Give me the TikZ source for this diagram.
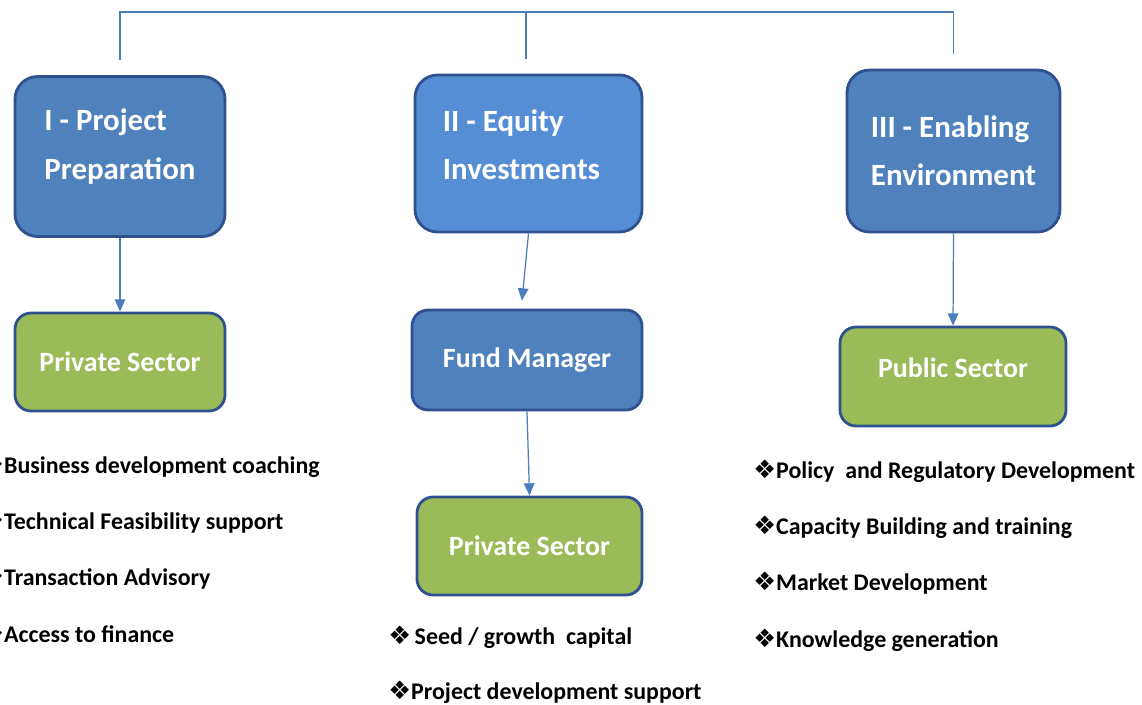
\documentclass[tikz,border=0pt]{standalone}
\usepackage{fontspec}
\setmainfont{Carlito}
\newfontfamily\symfont{DejaVu Sans}
\usepackage{tikz}
\usetikzlibrary{positioning,calc,arrows.meta}
\usepackage{xcolor}
\definecolor{boxblue}{HTML}{4F81BD}
\definecolor{boxlight}{HTML}{558ED5}
\definecolor{boxedge}{HTML}{2F528F}
\definecolor{boxgreen}{HTML}{9BBB59}
\definecolor{linkblue}{HTML}{4A7EBB}

\tikzset{
    pillar/.style={draw=boxedge, line width=1.6pt, fill=boxblue, rounded corners=0.45cm,
        text=white, font=\fontsize{17.6}{27.5}\selectfont\bfseries, align=left,
        minimum width=4.2cm, minimum height=3.2cm},
    sector/.style={draw=boxedge, line width=1.6pt, fill=boxgreen, rounded corners=0.32cm,
        text=white, font=\fontsize{15.9}{19}\selectfont\bfseries,
        minimum width=4.2cm, minimum height=1.96cm},
    item/.style={anchor=base west, inner sep=0pt, font=\fontsize{13.6}{16}\selectfont\bfseries},
    link/.style={linkblue, line width=0.7pt},
    flow/.style={link, -{Triangle[length=7pt,width=6pt]}}
}
\newcommand{\dia}{{\symfont\fontsize{14.5}{16}\selectfont ❖}}

\begin{document}
\begin{tikzpicture}[x=0.02cm, y=-0.02cm]
    \useasboundingbox (0,0) rectangle (1142,704);

    % Three pillars
    \node[pillar, text depth=14pt] (prep) at (120,156.5) {I - Project\\Preparation};
    \node[pillar, fill=boxlight, minimum width=4.54cm, minimum height=3.14cm, text depth=10pt]
        (equity) at (528.5,153.5) {II - Equity\\Investments\hspace*{8pt}};
    \node[pillar, minimum width=4.26cm, minimum height=3.24cm] (enab) at (953.5,151)
        {III - Enabling\\Environment};

    % Top connector
    \coordinate (top) at (526,12);
    \draw[link] ($(prep.north)+(0,-15)$) |- (top) -| ($(enab.north)+(0,-15)$);
    \draw[link] (top) -- ($(equity.north)+(-2.5,-15)$);

    % Second row
    \node[sector] (priv1) at (120,362) {Private Sector};
    \node[sector, fill=boxblue, minimum width=4.6cm, minimum height=2cm] (fund) at (527,360)
        {Fund Manager};
    \node[sector, minimum width=4.5cm] (priv2) at (529.5,546) {Private Sector};
    \node[sector, minimum width=4.52cm, minimum height=1.98cm, text depth=10pt] (public)
        at (953,376.5) {Public Sector};

    % Arrows
    \draw[flow] (prep) -- (priv1);
    \draw[flow] (equity.south) -- ($(fund.north)+(-5,-8)$);
    \draw[flow] (fund.south) -- (priv2.north);
    \draw[flow] (enab.south) -- (public.north);

    % Bullet lists
    \node[item] (b1) at (-19,473) {\dia Business development coaching};
    \node[item] (b2) at (-19,529) {\dia Technical Feasibility support};
    \node[item] (b3) at (-19,585) {\dia Transaction Advisory};
    \node[item] (b4) at (-19,642) {\dia Access to finance};

    \node[item] (s1) at (388,644) {\dia\hspace{2pt}Seed / growth\ \ capital};
    \node[item] (s2) at (388,699) {\dia Project development support};

    \node[item] (p1) at (753,478) {\dia Policy\ \ and Regulatory Development};
    \node[item] (p2) at (753,534) {\dia Capacity Building and training};
    \node[item] (p3) at (753,590) {\dia Market Development};
    \node[item] (p4) at (753,647) {\dia Knowledge generation};
\end{tikzpicture}
\end{document}
